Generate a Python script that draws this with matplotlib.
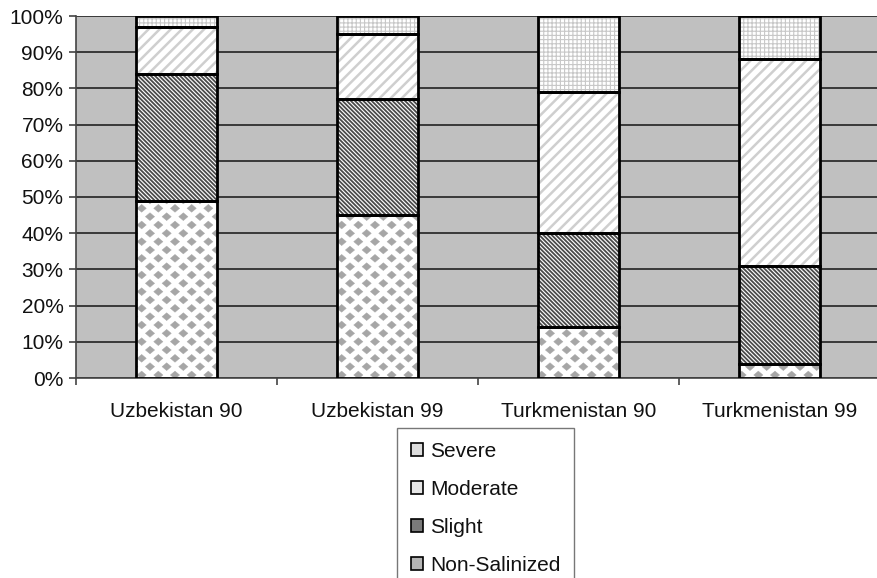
import numpy as np
import matplotlib.pyplot as plt
import matplotlib.hatch as mhatch
from matplotlib.path import Path
from matplotlib.patches import Patch
from matplotlib.ticker import FixedLocator, PercentFormatter

plt.rcParams['font.family'] = ['Liberation Sans', 'DejaVu Sans']


class Diamonds(mhatch.HatchPatternBase):
    """Staggered grey diamonds, used for the '*' hatch (replaces stars)."""
    cols, rows, half_w, half_h = 6, 12, 0.046, 0.039

    def __init__(self, hatch, density):
        self.centers = []
        if '*' in hatch:
            for j in range(-1, self.rows + 2):
                for i in range(-1, self.cols + 2):
                    self.centers.append(((i + 0.5 * (j % 2)) / self.cols, j / self.rows))
        self.num_vertices = len(self.centers) * 5

    def set_vertices_and_codes(self, vertices, codes):
        dx, dy = self.half_w, self.half_h
        shape = np.array([[0, dy], [dx, 0], [0, -dy], [-dx, 0], [0, dy]])
        for k, (cx, cy) in enumerate(self.centers):
            vertices[k * 5:(k + 1) * 5] = shape + [cx, cy]
            codes[k * 5:(k + 1) * 5] = [Path.MOVETO, Path.LINETO, Path.LINETO,
                                        Path.LINETO, Path.CLOSEPOLY]


mhatch._hatch_types = [h for h in mhatch._hatch_types if h is not mhatch.Stars]
mhatch._hatch_types.append(Diamonds)

# values (percent of irrigated area)
regions = ['Uzbekistan 90', 'Uzbekistan 99', 'Turkmenistan 90', 'Turkmenistan 99']
non_salinized = [49, 45, 14, 4]
slight = [35, 32, 26, 27]
moderate = [13, 18, 39, 57]
severe = [3, 5, 21, 12]

series = [
    ('Non-Salinized', non_salinized, '*', '#a6a6a6', 0.3, '#b5b5b5'),
    ('Slight', slight, '\\' * 8, '#4a4a4a', 1.3, '#7a7a7a'),
    ('Moderate', moderate, '///', '#cfcfcf', 1.8, '#e6e6e6'),
    ('Severe', severe, '++++', '#c8c8c8', 0.8, '#dddddd'),
]

fs = 15

fig = plt.figure(figsize=(8.78, 5.78), dpi=100)
ax = fig.add_axes([76 / 878, 200 / 578, 804 / 878, 362 / 578])
ax.set_facecolor('#c0c0c0')

x = np.arange(len(regions))
width = 0.4
bottom = np.zeros(len(regions))
for name, vals, hatch, hcol, hlw, swatch in series:
    vals = np.array(vals, dtype=float)
    plt.rcParams['hatch.linewidth'] = hlw
    bars = ax.bar(x, vals, width, bottom=bottom, color='white',
                  edgecolor=hcol, hatch=hatch, linewidth=0, zorder=3)
    for b in bars:
        if hasattr(b, 'set_hatch_linewidth'):
            b.set_hatch_linewidth(hlw)
    ax.bar(x, vals, width, bottom=bottom, fill=False,
           edgecolor='black', linewidth=2, zorder=4)
    bottom += vals

ax.set_xlim(-0.5, 3.5)
ax.set_ylim(0, 100)
ax.yaxis.set_major_locator(FixedLocator(np.arange(0, 101, 10)))
ax.yaxis.set_major_formatter(PercentFormatter(decimals=0))
ax.grid(axis='y', color='#222222', linewidth=1.2, zorder=1)
ax.set_axisbelow(True)

ax.set_xticks(x)
ax.set_xticklabels(regions)
ax.xaxis.set_minor_locator(FixedLocator(np.arange(-0.5, 4, 1)))
ax.tick_params(axis='x', which='major', length=0, pad=17, labelsize=fs,
               labelcolor='#111111')
ax.tick_params(axis='x', which='minor', length=5, width=1.2, color='#444444')
ax.tick_params(axis='y', length=5, width=1.2, color='#444444', pad=4,
               labelsize=fs, labelcolor='#111111')

for side in ['top', 'right']:
    ax.spines[side].set_visible(False)
for side in ['left', 'bottom']:
    ax.spines[side].set_color('#444444')
    ax.spines[side].set_linewidth(1.2)

# legend, Severe on top
leg_handles = [Patch(facecolor=s[5], edgecolor='black', linewidth=1.2, label=s[0])
               for s in series]
leg = fig.legend(handles=leg_handles[::-1], loc='upper left',
                 bbox_to_anchor=(397 / 878, 1 - 428 / 578),
                 fontsize=fs, frameon=True, fancybox=False,
                 edgecolor='#555555', handlelength=0.58, handleheight=0.58,
                 handletextpad=0.38, labelspacing=0.92, borderpad=0.65,
                 borderaxespad=0)
leg.get_frame().set_linewidth(1.0)
for t in leg.get_texts():
    t.set_color('#111111')

fig.savefig('out.png', dpi=100)
